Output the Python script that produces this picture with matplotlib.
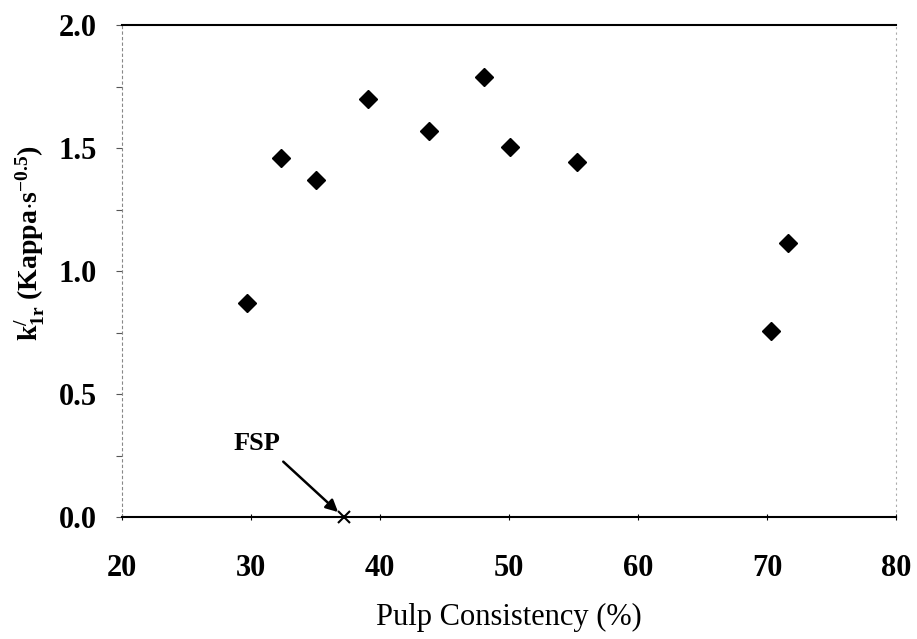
import matplotlib.pyplot as plt
import numpy as np

plt.rcParams['font.family'] = ['Liberation Serif', 'DejaVu Serif']
plt.rcParams['mathtext.fontset'] = 'custom'
plt.rcParams['mathtext.rm'] = 'Liberation Serif:bold'
plt.rcParams['mathtext.it'] = 'Liberation Serif:bold'
plt.rcParams['mathtext.bf'] = 'Liberation Serif:bold'

# dados
consistencia = [29.7, 32.3, 35.0, 39.1, 43.8, 48.1, 50.1, 55.3, 70.3, 71.6]
k1r = [0.87, 1.46, 1.37, 1.70, 1.57, 1.79, 1.505, 1.445, 0.755, 1.115]
fsp_x = 37.2
fsp_y = 0.0

x_ticks = [20, 30, 40, 50, 60, 70, 80]
y_ticks = [0.0, 0.5, 1.0, 1.5, 2.0]

fig = plt.figure(figsize=(9.17, 6.39), dpi=100)
ax = fig.add_axes([122 / 917, 1 - 517 / 639, (896 - 122) / 917, (517 - 25) / 639])

ax.plot(consistencia, k1r, linestyle='none', marker='D', markersize=9.5,
        color='black', clip_on=False)
ax.plot([fsp_x], [fsp_y], linestyle='none', marker='x', markersize=9,
        markeredgewidth=1.5, color='black', clip_on=False, zorder=5)

# seta do FSP
ax.annotate('', xy=(36.75, 0.02), xytext=(32.5, 0.225),
            arrowprops=dict(arrowstyle='-|>', color='black', lw=1.8,
                            mutation_scale=18, shrinkA=0, shrinkB=0))
ax.text(30.5, 0.30, 'FSP', fontsize=19, fontweight='bold',
        ha='center', va='center')

ax.set_xlim(20, 80)
ax.set_ylim(0, 2.0)
ax.set_xticks(x_ticks)
ax.set_yticks(y_ticks)
ax.set_yticks(np.arange(0, 2.01, 0.25), minor=True)
ax.set_xticklabels([str(v) for v in x_ticks])
ax.set_yticklabels([f'{v:.1f}' for v in y_ticks])

for lbl in ax.get_xticklabels() + ax.get_yticklabels():
    lbl.set_fontsize(22)
    lbl.set_fontweight('bold')

ax.tick_params(axis='x', direction='inout', length=4, width=0.8, pad=25)
ax.tick_params(axis='y', which='both', direction='out', length=4, width=0.8,
               color='#555555', pad=14)

ax.spines['top'].set_linewidth(1.5)
ax.spines['bottom'].set_linewidth(1.5)
ax.spines['left'].set_linestyle((0, (2, 3)))
ax.spines['left'].set_color('#888888')
ax.spines['left'].set_linewidth(0.8)
ax.spines['right'].set_linestyle((0, (1, 4)))
ax.spines['right'].set_color('#aaaaaa')
ax.spines['right'].set_linewidth(0.8)

ax.set_xlabel('Pulp Consistency (%)', fontsize=22, labelpad=14)
ax.set_ylabel(r"k$^{/}_{1r}$ (Kappa$\cdot$s$^{-0.5}$)", fontsize=20,
              fontweight='bold')
ax.yaxis.set_label_coords(-0.097, 0.557)

fig.savefig('out.png', dpi=100)
